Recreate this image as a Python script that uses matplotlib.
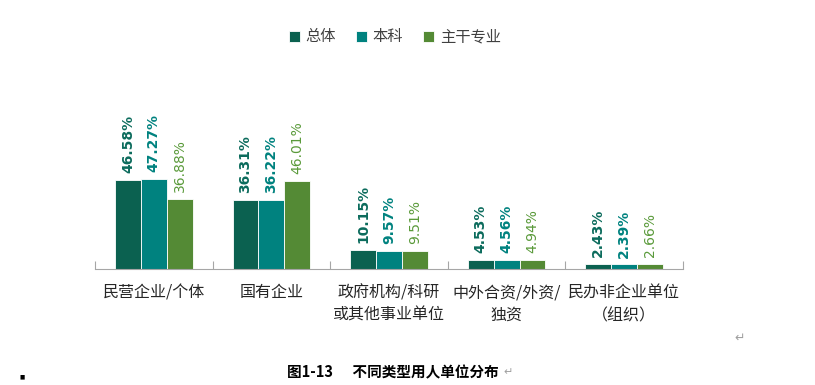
import numpy as np
import matplotlib.pyplot as plt

plt.rcParams['font.family'] = ['Noto Sans CJK SC', 'DejaVu Sans']

categories = ['民营企业/个体', '国有企业', '政府机构/科研\n或其他事业单位',
              '中外合资/外资/\n独资', '民办非企业单位\n（组织）']
series_names = ['总体', '本科', '主干专业']
zongti = [46.58, 36.31, 10.15, 4.53, 2.43]
benke = [47.27, 36.22, 9.57, 4.56, 2.39]
zhugan = [36.88, 46.01, 9.51, 4.94, 2.66]

colors = ['#0b6150', '#00827f', '#548a35']
label_colors = ['#0b6b5c', '#00827f', '#5a9a3a']

fig = plt.figure(figsize=(8.15, 3.85), dpi=100)
W, H = 815, 385
# axes in pixel coords: left 95, right 683, bottom 269, top 100
ax = fig.add_axes([95 / W, 1 - 269 / H, (683 - 95) / W, (269 - 100) / H])

x = np.arange(len(categories))
bw = 0.22
all_series = [zongti, benke, zhugan]
handles = []
for i, vals in enumerate(all_series):
    pos = x + (i - 1) * bw
    b = ax.bar(pos, vals, width=bw, color=colors[i], edgecolor='white',
               linewidth=0.6, label=series_names[i])
    handles.append(b)
    for p, v in zip(pos, vals):
        ax.annotate(f'{v:.2f}%', (p, v), xytext=(0, 5), textcoords='offset points',
                    rotation=90, ha='center', va='bottom', fontsize=10,
                    color=label_colors[i],
                    fontweight='bold' if i < 2 else 'normal',
                    family='DejaVu Sans')

ax.set_xlim(-0.5, len(categories) - 0.5)
ax.set_ylim(0, 88.7)
for s in ['top', 'right', 'left']:
    ax.spines[s].set_visible(False)
ax.spines['bottom'].set_color('#a6a6a6')
ax.set_yticks([])
ax.set_xticks(np.arange(-0.5, len(categories)), minor=False)
ax.set_xticklabels([])
ax.tick_params(axis='x', direction='in', length=6, color='#a6a6a6')
for xi, c in zip(x, categories):
    ax.text(xi, -8, c, ha='center', va='top', fontsize=11.5, color='#262626',
            linespacing=1.45)

fig.legend(handles=handles, labels=series_names, loc='center',
           bbox_to_anchor=(395 / W, 1 - 37 / H), ncol=3, frameon=False,
           fontsize=11, handlelength=0.7, handleheight=0.7,
           handletextpad=0.4, columnspacing=1.3, labelcolor='#404040')

fig.text(393 / W, 1 - 372 / H, '图1-13      不同类型用人单位分布', ha='center',
         va='center', fontsize=10.5, fontweight='bold', color='black')
fig.text(508 / W, 1 - 372 / H, '↵', ha='center', va='center', fontsize=8,
         color='#a0a0a0', family='DejaVu Sans')
fig.text(740 / W, 1 - 338 / H, '↵', ha='center', va='center', fontsize=9,
         color='#a0a0a0', family='DejaVu Sans')
fig.text(22 / W, 1 - 377 / H, '■', ha='center', va='center', fontsize=4,
         color='black', family='DejaVu Sans')

fig.savefig('out.png', dpi=100)
